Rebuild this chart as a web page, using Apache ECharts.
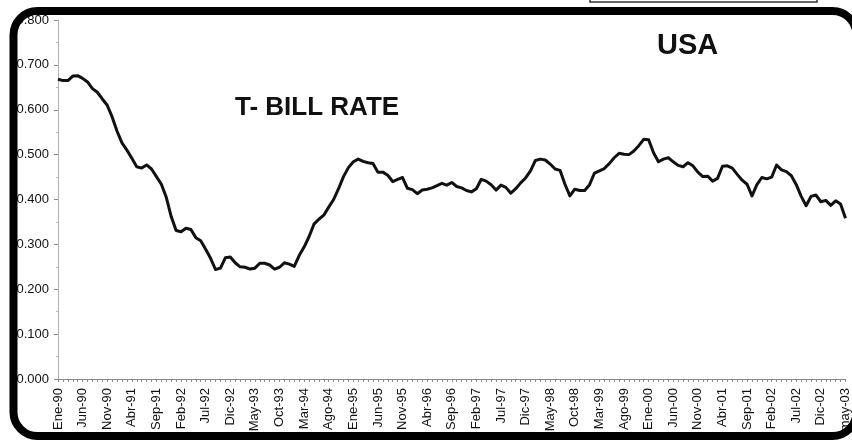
<!DOCTYPE html>
<html>
<head>
<meta charset="utf-8">
<script src="https://cdn.jsdelivr.net/npm/echarts@6/dist/echarts.min.js"></script>
<style>
  html, body { margin: 0; padding: 0; background: #fff; }
  #chart { width: 852px; height: 442px; }
</style>
</head>
<body>
<div id="chart"></div>
<script>
// Monthly T-bill rate, Jan 1990 – May 2003
const monthNames = ['Ene', 'Feb', 'Mar', 'Abr', 'May', 'Jun', 'Jul', 'Ago', 'Sep', 'Oct', 'Nov', 'Dic'];
const firstYear = 1990;
const monthCount = 161;

const rates = [
  0.668, 0.665, 0.665, 0.675, 0.676, 0.670, 0.662, 0.647, 0.639, 0.624,
  0.610, 0.584, 0.552, 0.526, 0.510, 0.492, 0.473, 0.470, 0.477, 0.468,
  0.451, 0.434, 0.405, 0.362, 0.331, 0.328, 0.336, 0.333, 0.315, 0.308,
  0.289, 0.269, 0.244, 0.247, 0.270, 0.272, 0.259, 0.250, 0.249, 0.245,
  0.247, 0.258, 0.258, 0.254, 0.245, 0.249, 0.259, 0.256, 0.251, 0.275,
  0.294, 0.317, 0.345, 0.356, 0.365, 0.383, 0.400, 0.424, 0.451, 0.471,
  0.484, 0.490, 0.485, 0.482, 0.480, 0.461, 0.461, 0.454, 0.440, 0.445,
  0.449, 0.425, 0.422, 0.413, 0.421, 0.423, 0.426, 0.431, 0.436, 0.432,
  0.438, 0.429, 0.426, 0.420, 0.417, 0.424, 0.445, 0.441, 0.433, 0.421,
  0.432, 0.427, 0.414, 0.424, 0.437, 0.448, 0.464, 0.487, 0.490, 0.488,
  0.479, 0.468, 0.465, 0.434, 0.408, 0.423, 0.420, 0.420, 0.433, 0.459,
  0.464, 0.469, 0.480, 0.493, 0.503, 0.501, 0.500, 0.508, 0.520, 0.534,
  0.533, 0.504, 0.484, 0.490, 0.493, 0.484, 0.476, 0.473, 0.482, 0.475,
  0.461, 0.451, 0.452, 0.441, 0.447, 0.474, 0.475, 0.470, 0.456, 0.443,
  0.434, 0.408, 0.433, 0.449, 0.446, 0.450, 0.477, 0.466, 0.462, 0.453,
  0.433, 0.407, 0.386, 0.407, 0.410, 0.395, 0.398, 0.387, 0.397, 0.390,
  0.358
];

// Category labels like "Ene-90"; the closing month is printed in lower case.
const categories = [];
for (let i = 0; i < monthCount; i++) {
  const y = firstYear + Math.floor(i / 12);
  categories.push(monthNames[i % 12] + '-' + String(y % 100).padStart(2, '0'));
}
categories[monthCount - 1] = categories[monthCount - 1].toLowerCase();

const yTicks = { min: 0, max: 0.8, step: 0.1 };
const titleMain = 'USA';
const titleSeries = 'T- BILL RATE';

const FONT = "'Liberation Sans', Arial, Helvetica, sans-serif";

const chart = echarts.init(document.getElementById('chart'), null, { renderer: 'canvas' });

chart.setOption({
  backgroundColor: '#ffffff',
  animation: false,
  grid: { left: 58, right: 0, top: 20, bottom: 63, containLabel: false },
  xAxis: {
    type: 'category',
    data: categories,
    boundaryGap: false,
    axisLine: { show: true, lineStyle: { color: '#8a8a8a', width: 1 } },
    axisTick: { show: true, interval: 0, length: 3, lineStyle: { color: '#8a8a8a' } },
    axisLabel: {
      interval: 4,
      rotate: 90,
      margin: 9,
      fontSize: 13,
      color: '#111',
      fontFamily: FONT
    },
    splitLine: { show: false }
  },
  yAxis: {
    type: 'value',
    min: yTicks.min,
    max: yTicks.max,
    interval: yTicks.step,
    axisLine: { show: true, lineStyle: { color: '#b0b0b0', width: 1 } },
    axisTick: { show: true, length: 4, lineStyle: { color: '#8a8a8a' } },
    minorTick: { show: true, splitNumber: 2, length: 2, lineStyle: { color: '#bbb' } },
    axisLabel: {
      margin: 9,
      fontSize: 13,
      color: '#111',
      fontFamily: FONT,
      formatter: v => v.toFixed(3)
    },
    splitLine: { show: false }
  },
  series: [{
    type: 'line',
    data: rates,
    symbol: 'none',
    smooth: false,
    clip: false,
    lineStyle: { color: '#111', width: 3, join: 'round' }
  }],
  graphic: [
    {
      type: 'text',
      left: 657,
      top: 31,
      z: 50,
      style: { text: titleMain, font: 'bold 29px ' + FONT, fill: '#111' }
    },
    {
      type: 'text',
      left: 235,
      top: 95,
      z: 50,
      style: { text: titleSeries, font: 'bold 26px ' + FONT, fill: '#111' }
    },
    {
      // rounded outer frame
      type: 'rect',
      z: 100,
      shape: { x: 13.5, y: 11, width: 843, height: 425, r: 24 },
      style: { fill: 'none', stroke: '#000', lineWidth: 8 }
    },
    {
      // edge of the box sitting above the frame
      type: 'rect',
      z: 100,
      shape: { x: 590, y: -20, width: 227, height: 22 },
      style: { fill: 'none', stroke: '#333', lineWidth: 1.5 }
    }
  ]
});
</script>
</body>
</html>
